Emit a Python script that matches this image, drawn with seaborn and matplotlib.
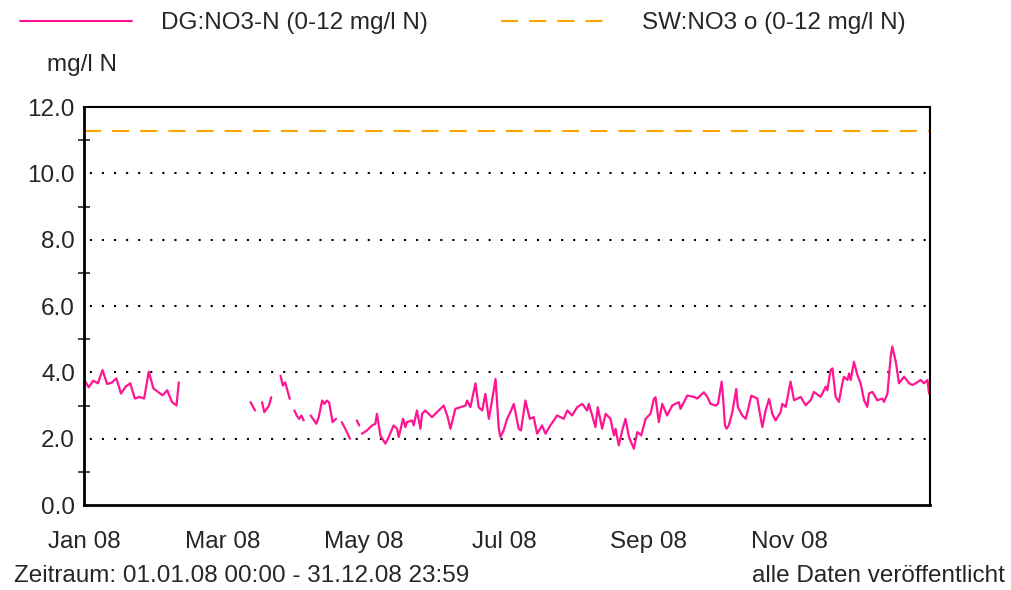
import numpy as np
import pandas as pd
import matplotlib
matplotlib.use("Agg")
import matplotlib.pyplot as plt
from matplotlib.ticker import MultipleLocator
import seaborn as sns

# Tag im Jahr (0 = 01.01.08), NaN trennt die Abschnitte
tage = [0, 2, 4, 6, 8, 10, 12, 14, 16, 18, 20, 22, 24, 26, 28, 30, 32, 34, 36, 38, 40, 41, 42,
        72, 74, 75,
        77, 78, 80, 81, 82,
        85, 86, 87, 88, 89, 90,
        91, 92, 93, 94, 95, 96,
        98, 99, 100.5, 101.5, 103, 104, 105, 106, 107.5, 109, 110,
        111.5, 113, 115, 116,
        118, 119, 119.5,
        120.2, 122.4, 124.6, 126, 126.7, 128.2, 130.3, 131.8, 133.9, 135.4, 136.1, 138, 139, 139.7,
        141.9, 142.6, 144, 145.5, 146.2, 147.6, 150.5, 152.7, 155.6, 157.3, 158.5, 160.6, 162.8,
        165, 165.7, 167.1, 169.3, 170.7, 172.2, 173.6, 175.1, 177.2, 178, 179.4, 180.1,
        181.5, 183, 184.4, 185.9, 188, 189, 190.9, 192.8, 194.5, 196, 198.1, 199.6, 201.7, 203.2,
        204.6, 207.5, 209, 211.1, 213.3, 215.5, 217.6, 218.3, 219.8, 221.2, 222.2, 224.1, 225.6,
        227.7, 229.2, 229.9, 231.3, 232.8, 234.2, 235.7, 237.8, 239.3, 241, 242.9,
        245, 246.5, 247.2, 248.6, 250.1, 252.2, 254.4, 257.3, 258, 260.9, 263.8, 265.2, 268.1,
        269.6, 271, 273.2, 274.2, 275.8, 276.5, 277.2, 277.9, 278.9, 280.4, 282.1, 282.8, 284.7,
        286.2, 287.6, 288.6, 291.2, 292.6, 293.4, 294.8, 296.3, 297.7, 299.1, 301.3,
        302, 303.5, 304.9, 305.6, 307.1, 308.5, 310, 312.1, 314.3, 315.7, 318.6, 320.8, 321.5,
        322.9, 323.7, 325.1, 326.5, 328, 328.7, 330.2, 330.9, 331.6, 333, 334.5, 335.9, 337.4,
        338.8, 339.5, 341, 343.1, 345.3, 346, 347.5, 348.9, 349.6, 351.1, 352.5, 354.7, 356.9,
        358.3, 359.7, 361.9, 363.3, 364.8, 365.5]

werte = [3.79, 3.55, 3.75, 3.67, 4.07, 3.65, 3.69, 3.82, 3.36, 3.57, 3.67, 3.21, 3.26, 3.21, 4.02,
         3.52, 3.41, 3.31, 3.46, 3.11, 3.0, 3.7, np.nan,
         3.1, 2.85, np.nan,
         3.1, 2.8, 3.0, 3.25, np.nan,
         3.9, 3.6, 3.7, 3.45, 3.2, np.nan,
         2.85, 2.7, 2.6, 2.7, 2.55, np.nan,
         2.7, 2.6, 2.45, 2.65, 3.15, 3.05, 3.15, 3.1, 2.5, 2.6, np.nan,
         2.5, 2.3, 2.0, np.nan,
         2.55, 2.4, np.nan,
         2.15, 2.25, 2.4, 2.45, 2.75, 2.1, 1.85, 2.05, 2.4, 2.3, 2.05, 2.6, 2.35, 2.5,
         2.55, 2.4, 2.85, 2.3, 2.75, 2.85, 2.65, 2.8, 3.0, 2.65, 2.3, 2.9, 2.95,
         3.0, 3.15, 2.95, 3.67, 2.95, 2.85, 3.35, 2.6, 3.45, 3.8, 2.3, 2.05,
         2.25, 2.6, 2.8, 3.05, 2.3, 2.25, 3.15, 2.6, 2.65, 2.15, 2.4, 2.15, 2.4, 2.55,
         2.7, 2.6, 2.85, 2.7, 2.95, 3.05, 2.85, 3.05, 2.7, 2.35, 2.95, 2.3, 2.75,
         2.6, 2.1, 2.3, 1.8, 2.25, 2.6, 2.05, 1.7, 2.2, 2.1, 2.6,
         2.75, 3.2, 3.25, 2.5, 3.05, 2.7, 3.0, 3.1, 2.9, 3.3, 3.26, 3.21, 3.4,
         3.26, 3.05, 3.0, 3.05, 3.72, 3.16, 2.4, 2.3, 2.4, 2.8, 3.5, 2.95, 2.7,
         2.6, 2.99, 3.3, 3.21, 2.65, 2.35, 2.85, 3.2, 2.75, 2.55, 2.8,
         3.05, 2.96, 3.46, 3.72, 3.16, 3.21, 3.26, 3.01, 3.16, 3.41, 3.26, 3.57, 3.46,
         4.07, 4.12, 3.26, 3.11, 3.67, 3.87, 3.77, 3.97, 3.77, 4.32, 3.92, 3.67, 3.16,
         2.96, 3.36, 3.41, 3.16, 3.21, 3.11, 3.36, 4.48, 4.78, 4.32, 3.67, 3.87, 3.67,
         3.62, 3.67, 3.77, 3.67, 3.77, 3.36]

sw_wert = 11.27  # SW:NO3 o

y_ticks = [0, 2, 4, 6, 8, 10, 12]
x_tick_daten = ["2008-01-01", "2008-03-01", "2008-05-01", "2008-07-01", "2008-09-01", "2008-11-01"]
x_tick_labels = ["Jan 08", "Mar 08", "May 08", "Jul 08", "Sep 08", "Nov 08"]

start = pd.Timestamp("2008-01-01")
df = pd.DataFrame({"tag": tage, "wert": werte})
df["datum"] = start + pd.to_timedelta(df["tag"], unit="D")
df["abschnitt"] = df["wert"].isna().cumsum()
df = df.dropna()

sns.set_style("white")
plt.rcParams["font.family"] = ["Liberation Sans", "DejaVu Sans"]
fs = 17.5

fig = plt.figure(figsize=(10.11, 5.9), dpi=100)
ax = fig.add_axes([0.0831, 0.144, 0.837, 0.6746])

rosa = "#ff1493"
orange = "#ffa500"
strich = (0, (8.2, 5.3))

sns.lineplot(data=df, x="datum", y="wert", units="abschnitt", estimator=None,
             color=rosa, linewidth=1.6, ax=ax, legend=False)
ax.axhline(sw_wert, color=orange, linestyle=strich, linewidth=1.5)

ax.set_xlim(start, pd.Timestamp("2009-01-01"))
ax.set_ylim(0, 12)
ax.set_yticks(y_ticks)
ax.set_yticklabels([f"{v:.1f}" for v in y_ticks])
ax.yaxis.set_minor_locator(MultipleLocator(1))
ax.set_xticks(pd.to_datetime(x_tick_daten))
ax.set_xticklabels(x_tick_labels)

ax.tick_params(axis="y", which="major", direction="inout", length=9, width=1.2, pad=2, labelsize=fs)
ax.tick_params(axis="y", which="minor", direction="inout", length=9, width=1.2, left=True)
ax.tick_params(axis="x", which="major", direction="inout", length=10, width=1.2, pad=14, labelsize=fs)

for v in y_ticks[1:-1]:
    ax.axhline(v, color="black", linestyle=(3, (1, 4.8)), linewidth=1.5, zorder=0)

for s in ax.spines.values():
    s.set_color("black")
    s.set_linewidth(1.5)
ax.spines["left"].set_linewidth(2)
ax.spines["bottom"].set_linewidth(2)
ax.set_xlabel("")
ax.set_ylabel("")

# Legende oben
h1 = plt.Line2D([], [], color=rosa, linewidth=1.5)
h2 = plt.Line2D([], [], color=orange, linestyle=strich, linewidth=1.5)
fig.legend([h1, h2], ["DG:NO3-N (0-12 mg/l N)", "SW:NO3 o (0-12 mg/l N)"],
           loc="upper left", bbox_to_anchor=(-0.002, 1.016), ncol=2, frameon=False,
           handlelength=4.6, handletextpad=1.2, columnspacing=3.0, fontsize=fs)

fig.text(47 / 1011, 1 - 65 / 590, "mg/l N", ha="left", va="center", fontsize=fs)
fig.text(14 / 1011, 1 - 576 / 590, "Zeitraum: 01.01.08 00:00 - 31.12.08 23:59",
         ha="left", va="center", fontsize=fs)
fig.text(1005 / 1011, 1 - 576 / 590, "alle Daten veröffentlicht",
         ha="right", va="center", fontsize=fs)

fig.savefig("out.png", dpi=100)
